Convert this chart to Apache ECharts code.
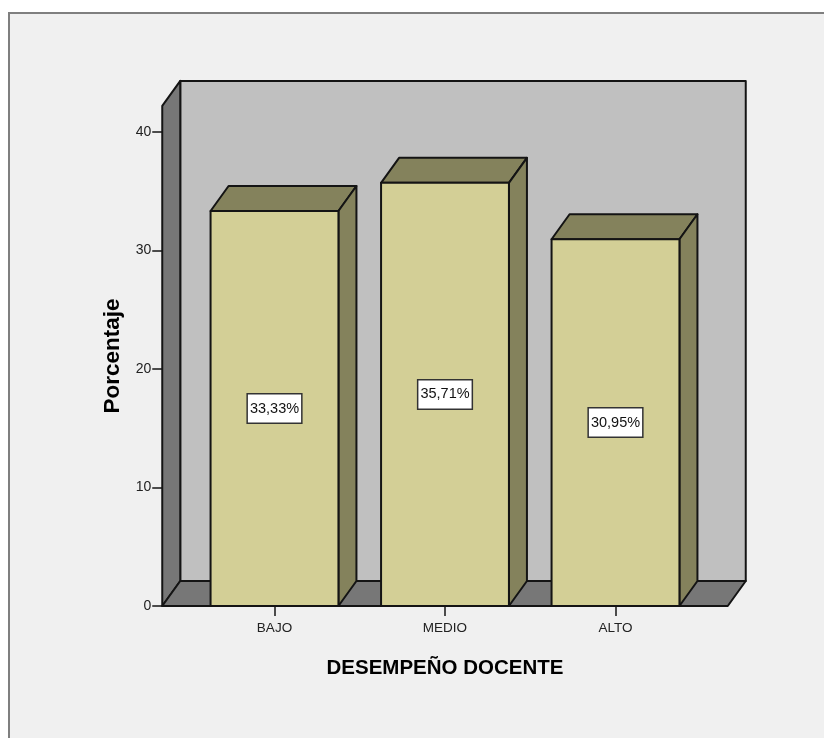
<!DOCTYPE html>
<html>
<head>
<meta charset="utf-8">
<style>
  html, body { margin: 0; padding: 0; background: #fff; }
  #frame {
    position: absolute; left: 8px; top: 12px; right: 0; bottom: 0;
    background: #f0f0f0;
    border-left: 2px solid #7f7f7f;
    border-top: 2px solid #7f7f7f;
  }
  #chart { position: absolute; left: 0; top: 0; width: 824px; height: 738px; }
</style>
</head>
<body>
<div id="frame"></div>
<div id="chart"></div>
<script src="https://cdn.jsdelivr.net/npm/echarts@6/dist/echarts.min.js"></script>
<script>
const categories = ['BAJO', 'MEDIO', 'ALTO']
const porcentajes = [33.33, 35.71, 30.95]
const yTop = 42.2

// 3D look of the SPSS chart
const depthX = 18
const depthY = -25
const wallPad = 27
const barShare = 0.75
const lineColor = '#141414'

const poly = (points, fill) => ({
  type: 'polygon',
  shape: { points },
  style: { fill, stroke: lineColor, lineWidth: 2, lineJoin: 'round' }
})

const renderWalls = (params, api) => {
  const sys = params.coordSys
  const x0 = sys.x - wallPad
  const x1 = sys.x + sys.width + wallPad
  const y0 = api.coord([0, 0])[1]
  const yT = api.coord([0, yTop])[1]
  return {
    type: 'group',
    children: [
      poly([[x0 + depthX, yT + depthY], [x1 + depthX, yT + depthY], [x1 + depthX, y0 + depthY], [x0 + depthX, y0 + depthY]], '#c0c0c0'),
      poly([[x0, y0], [x0, yT], [x0 + depthX, yT + depthY], [x0 + depthX, y0 + depthY]], '#777777'),
      poly([[x0, y0], [x1, y0], [x1 + depthX, y0 + depthY], [x0 + depthX, y0 + depthY]], '#777777')
    ]
  }
}

const renderBar = (params, api) => {
  const top = api.coord([api.value(0), api.value(1)])
  const base = api.coord([api.value(0), 0])
  const w = api.size([1, 0])[0] * barShare
  const l = top[0] - w / 2
  const r = top[0] + w / 2
  return {
    type: 'group',
    children: [
      poly([[l, top[1]], [r, top[1]], [r + depthX, top[1] + depthY], [l + depthX, top[1] + depthY]], '#84825c'),
      poly([[r, base[1]], [r, top[1]], [r + depthX, top[1] + depthY], [r + depthX, base[1] + depthY]], '#84825c'),
      poly([[l, base[1]], [l, top[1]], [r, top[1]], [r, base[1]]], '#d3cf96'),
      {
        type: 'text',
        x: top[0],
        y: (top[1] + base[1]) / 2,
        style: {
          text: api.value(1).toFixed(2).replace('.', ',') + '%',
          align: 'center',
          verticalAlign: 'middle',
          fontFamily: 'Liberation Sans',
          fontSize: 14.5,
          fill: '#111',
          backgroundColor: '#fff',
          borderColor: '#333',
          borderWidth: 1.5,
          padding: [7, 2, 6, 2]
        }
      }
    ]
  }
}

const chart = echarts.init(document.getElementById('chart'), null, { renderer: 'canvas' })
chart.setOption({
  animation: false,
  backgroundColor: 'transparent',
  grid: { left: 189.25, width: 511.5, top: 132, bottom: 132, containLabel: false },
  xAxis: {
    type: 'category',
    data: categories,
    name: 'DESEMPEÑO DOCENTE',
    nameLocation: 'middle',
    nameGap: 52,
    nameTextStyle: { fontFamily: 'Liberation Sans', fontWeight: 'bold', fontSize: 20.5, color: '#000' },
    axisLine: { show: false },
    axisTick: { show: true, alignWithLabel: true, length: 10, lineStyle: { color: lineColor, width: 1.5 } },
    axisLabel: { fontFamily: 'Liberation Sans', fontSize: 13.5, color: '#222', margin: 15 },
    splitLine: { show: false }
  },
  yAxis: {
    type: 'value',
    min: 0,
    max: 40,
    interval: 10,
    offset: wallPad,
    name: 'Porcentaje',
    nameLocation: 'middle',
    nameGap: 36,
    nameTextStyle: { fontFamily: 'Liberation Sans', fontWeight: 'bold', fontSize: 22.5, color: '#000', padding: [0, 0, 0, 26] },
    axisLine: { show: false },
    axisTick: { show: true, length: 10, lineStyle: { color: lineColor, width: 1.5 } },
    axisLabel: { fontFamily: 'Liberation Sans', fontSize: 14, color: '#222', margin: 11 },
    splitLine: { show: false }
  },
  series: [
    { type: 'custom', data: [[0, 0]], renderItem: renderWalls, silent: true, z: 1 },
    {
      type: 'custom',
      data: porcentajes.map((v, i) => [i, v]),
      encode: { x: 0, y: 1 },
      renderItem: renderBar,
      silent: true,
      z: 2
    }
  ]
})
</script>
</body>
</html>
